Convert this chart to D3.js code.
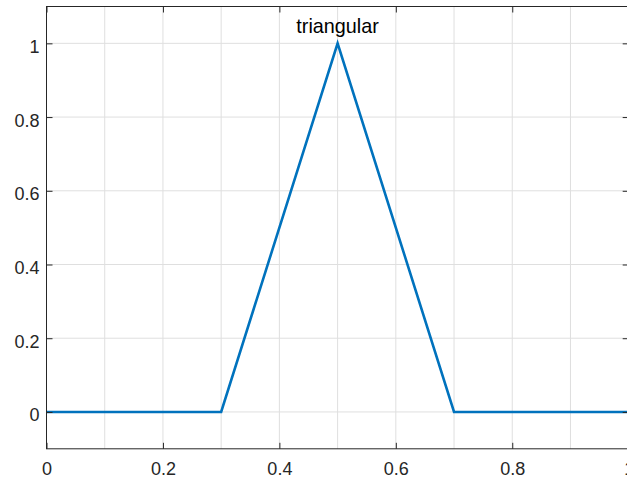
<!DOCTYPE html>
<html>
<head>
<meta charset="utf-8">
<script src="https://cdn.jsdelivr.net/npm/d3@7"></script>
<style>
  html, body { margin: 0; padding: 0; background: #fff; overflow: hidden; }
  svg { display: block; }
</style>
</head>
<body>
<script>
// Triangular membership function: breakpoints and values
const xValues = [0, 0.3, 0.5, 0.7, 1];
const yValues = [0, 0, 1, 0, 0];
const xTicks = [0, 0.2, 0.4, 0.6, 0.8, 1];
const xGrid = [0.1, 0.2, 0.3, 0.4, 0.5, 0.6, 0.7, 0.8, 0.9];
const yTicks = [0, 0.2, 0.4, 0.6, 0.8, 1];
const titleText = "triangular";

const W = 627, H = 480;
const margin = { left: 46.5, top: 6.5, right: 628.7, bottom: 448.8 };

const svg = d3.select("body").append("svg")
  .attr("width", W).attr("height", H);

const x = d3.scaleLinear().domain([0, 1]).range([margin.left, margin.right]);
const y = d3.scaleLinear().domain([-0.1, 1.1]).range([margin.bottom, margin.top]);

const axisColor = "#262626";
const gridColor = "#dfdfdf";
const font = "'Liberation Sans', Arial, sans-serif";

// grid
svg.append("g").selectAll("line.vg").data(xGrid).join("line")
  .attr("x1", d => x(d)).attr("x2", d => x(d))
  .attr("y1", margin.top).attr("y2", margin.bottom)
  .attr("stroke", gridColor).attr("stroke-width", 1);
svg.append("g").selectAll("line.hg").data(yTicks).join("line")
  .attr("y1", d => y(d)).attr("y2", d => y(d))
  .attr("x1", margin.left).attr("x2", margin.right)
  .attr("stroke", gridColor).attr("stroke-width", 1);

// data line
const clip = svg.append("clipPath").attr("id", "plotclip").append("rect")
  .attr("x", margin.left).attr("y", margin.top)
  .attr("width", margin.right - margin.left).attr("height", margin.bottom - margin.top);

const line = d3.line().x((d, i) => x(xValues[i])).y(d => y(d));
svg.append("path").datum(yValues)
  .attr("clip-path", "url(#plotclip)")
  .attr("d", line)
  .attr("fill", "none")
  .attr("stroke", "#0072BD")
  .attr("stroke-width", 2.6)
  .attr("stroke-linejoin", "miter");

// axes (inward ticks, mirrored on top/right)
const tickLen = 6;
function styleAxis(g) {
  g.select(".domain").remove();
  g.selectAll(".tick line").attr("stroke", axisColor).attr("stroke-width", 1);
  g.selectAll(".tick text").attr("fill", axisColor)
    .attr("font-family", font).attr("font-size", 18);
}

svg.append("g").attr("transform", `translate(0,${margin.bottom})`)
  .call(d3.axisBottom(x).tickValues(xTicks).tickSizeInner(-tickLen).tickSizeOuter(0)
    .tickPadding(14).tickFormat(d3.format("~g")))
  .call(styleAxis)
  .call(g => g.selectAll(".tick text").attr("dy", "0").attr("y", 26.3));

svg.append("g").attr("transform", `translate(0,${margin.top})`)
  .call(d3.axisTop(x).tickValues(xTicks).tickSizeInner(-tickLen).tickSizeOuter(0).tickFormat(""))
  .call(styleAxis);

svg.append("g").attr("transform", `translate(${margin.left},0)`)
  .call(d3.axisLeft(y).tickValues(yTicks).tickSizeInner(-tickLen).tickSizeOuter(0)
    .tickFormat(d3.format("~g")))
  .call(styleAxis)
  .call(g => g.selectAll(".tick text").attr("x", -7).attr("dy", "0").attr("y", 9));

svg.append("g").attr("transform", `translate(${margin.right},0)`)
  .call(d3.axisRight(y).tickValues(yTicks).tickSizeInner(-tickLen).tickSizeOuter(0).tickFormat(""))
  .call(styleAxis);

// axes box
svg.append("rect")
  .attr("x", margin.left).attr("y", margin.top)
  .attr("width", margin.right - margin.left).attr("height", margin.bottom - margin.top)
  .attr("fill", "none").attr("stroke", axisColor).attr("stroke-width", 1);

// title
svg.append("text")
  .attr("x", (margin.left + margin.right) / 2).attr("y", 33.3)
  .attr("text-anchor", "middle")
  .attr("font-family", font).attr("font-size", 19.8)
  .attr("fill", "#000")
  .text(titleText);
</script>
</body>
</html>
